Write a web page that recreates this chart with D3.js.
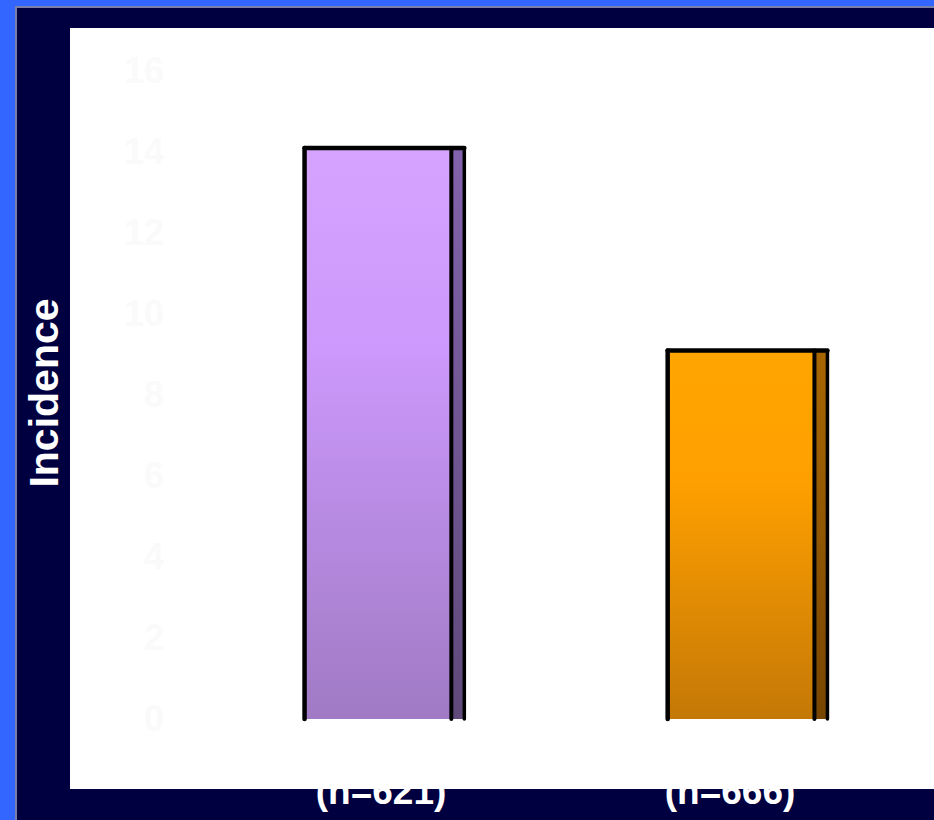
<!DOCTYPE html>
<html>
<head>
<meta charset="utf-8">
<script src="https://cdn.jsdelivr.net/npm/d3@7"></script>
<style>
  html, body { margin: 0; padding: 0; background: #3366ff; }
  svg { display: block; font-family: "Liberation Sans", Arial, sans-serif; }
</style>
</head>
<body>
<svg id="chart" width="934" height="820"></svg>
<script>
// Incidence by group
const categories = ["(n=621)", "(n=666)"];
const values = [14.1, 9.1];
const tickValues = [0, 2, 4, 6, 8, 10, 12, 14, 16];
const axisTitle = "Incidence";

const W = 934, H = 820;
const svg = d3.select("#chart");

// slide frame: blue edge, thin grey rule, navy panel, white plot area
svg.append("rect").attr("width", W).attr("height", H).attr("fill", "#3366ff");
svg.append("rect").attr("x", 15).attr("y", 6).attr("width", W - 15).attr("height", H - 6).attr("fill", "#7a80a8");
svg.append("rect").attr("x", 17).attr("y", 8).attr("width", W - 17).attr("height", H - 8).attr("fill", "#000040");

// category labels sit at the bottom, partly hidden behind the plot area
const xLabel = d3.scalePoint().domain(categories).range([381, 730]);
svg.append("g").selectAll("text").data(categories).join("text")
  .attr("x", d => xLabel(d))
  .attr("y", 804)
  .attr("text-anchor", "middle")
  .attr("font-size", 37)
  .attr("font-weight", "bold")
  .attr("fill", "#ffffff")
  .text(d => d);

svg.append("rect").attr("x", 70).attr("y", 28).attr("width", W - 70).attr("height", 761).attr("fill", "#ffffff");

// scales
const y = d3.scaleLinear().domain([0, 16]).range([719, 71]);
const x = d3.scaleBand().domain(categories).range([123, 1009]).paddingInner(0.56).paddingOuter(0.5);

// very faint tick labels
const yAxis = d3.axisLeft(y).tickValues(tickValues).tickSize(0).tickPadding(0);
const gy = svg.append("g").attr("transform", "translate(164,0)").call(yAxis);
gy.select(".domain").remove();
gy.selectAll("text")
  .attr("font-size", 36)
  .attr("font-weight", "bold")
  .attr("font-family", "Liberation Sans, Arial, sans-serif")
  .attr("fill", "#fafafa");

// axis title
svg.append("text")
  .attr("transform", "translate(58,393) rotate(-90)")
  .attr("text-anchor", "middle")
  .attr("font-size", 41)
  .attr("font-weight", "bold")
  .attr("fill", "#ffffff")
  .text(axisTitle);

// gradients for front faces and side strips
const defs = svg.append("defs");
const palettes = [
  { front: ["#d6a3ff", "#cc99fc", "#a07ac4"], side: ["#8262ac", "#5f4a7a"] },
  { front: ["#ffa500", "#ffa000", "#c47806"], side: ["#a86600", "#784600"] }
];
palettes.forEach((p, i) => {
  const gf = defs.append("linearGradient").attr("id", "front" + i)
    .attr("x1", 0).attr("y1", 0).attr("x2", 0).attr("y2", 1);
  gf.append("stop").attr("offset", "0%").attr("stop-color", p.front[0]);
  gf.append("stop").attr("offset", "35%").attr("stop-color", p.front[1]);
  gf.append("stop").attr("offset", "100%").attr("stop-color", p.front[2]);
  const gs = defs.append("linearGradient").attr("id", "side" + i)
    .attr("x1", 0).attr("y1", 0).attr("x2", 0).attr("y2", 1);
  gs.append("stop").attr("offset", "0%").attr("stop-color", p.side[0]);
  gs.append("stop").attr("offset", "100%").attr("stop-color", p.side[1]);
});

// bars: front face plus a narrow side strip, outlined in black
const sideW = 13;
const bars = svg.append("g").selectAll("g").data(categories).join("g");
bars.each(function (d, i) {
  const g = d3.select(this);
  const x0 = x(d), bw = x.bandwidth();
  const xs = x0 + bw - sideW;
  const yt = y(values[i]), yb = y(0);
  g.append("rect").attr("x", x0).attr("y", yt).attr("width", bw - sideW).attr("height", yb - yt)
    .attr("fill", `url(#front${i})`);
  g.append("rect").attr("x", xs).attr("y", yt).attr("width", sideW).attr("height", yb - yt)
    .attr("fill", `url(#side${i})`);
  const line = (a, b, c, e, w) => g.append("line")
    .attr("x1", a).attr("y1", b).attr("x2", c).attr("y2", e)
    .attr("stroke", "#000").attr("stroke-width", w).attr("stroke-linecap", "round");
  line(x0, yb, x0, yt, 4.5);
  line(x0, yt, x0 + bw, yt, 4.5);
  line(xs, yt, xs, yb, 4);
  line(x0 + bw, yt, x0 + bw, yb, 3.5);
});
</script>
</body>
</html>
